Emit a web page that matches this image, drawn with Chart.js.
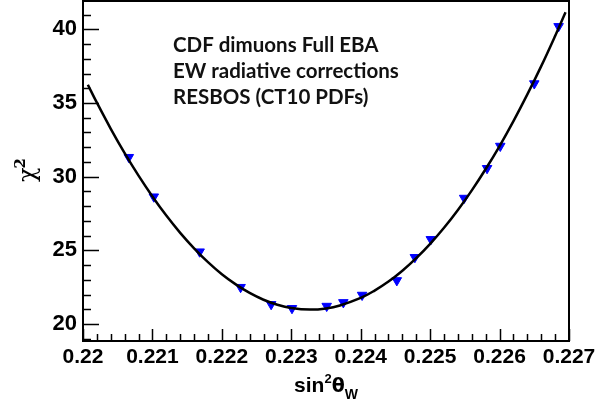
<!DOCTYPE html>
<html>
<head>
<meta charset="utf-8">
<script src="https://cdn.jsdelivr.net/npm/chart.js@4.4.0/dist/chart.umd.min.js"></script>
<style>
  html, body { margin: 0; padding: 0; background: #fff; }
  #wrap { width: 611px; height: 405px; position: relative; }
</style>
</head>
<body>
<div id="wrap"><canvas id="chi2Chart"></canvas></div>
<script>
// scan points (sin^2 theta_W, chi^2)
const pointX = [0.22066, 0.22102, 0.22168, 0.22227, 0.22271, 0.22301, 0.22351, 0.22375, 0.22402,
                0.22452, 0.22478, 0.22501, 0.22549, 0.22582, 0.22601, 0.22650, 0.22685];
const pointChi2 = [31.32, 28.64, 24.91, 22.50, 21.34, 21.07, 21.22, 21.47, 21.97,
                   22.96, 24.53, 25.75, 28.55, 30.57, 32.08, 36.32, 40.20];

// fitted curve
const fitX = [0.22007, 0.2202, 0.2204, 0.2206, 0.2208, 0.2210, 0.2212, 0.2214, 0.2216, 0.2218,
              0.2220, 0.2222, 0.2224, 0.2226, 0.2228, 0.2230, 0.22327, 0.2235, 0.2237, 0.2240,
              0.2242, 0.2244, 0.2246, 0.2248, 0.2250, 0.2252, 0.2254, 0.2256, 0.2258, 0.2260,
              0.2262, 0.2264, 0.2266, 0.2268, 0.22695];
const fitChi2 = [36.24, 35.02, 33.25, 31.60, 30.07, 28.66, 27.36, 26.19, 25.14, 24.20,
                 23.38, 22.69, 22.11, 21.65, 21.31, 21.09, 20.98, 21.06, 21.26, 21.77,
                 22.27, 22.88, 23.62, 24.47, 25.44, 26.53, 27.74, 29.07, 30.52, 32.08,
                 33.77, 35.58, 37.50, 39.55, 41.16];

const xTickValues = [0.220, 0.221, 0.222, 0.223, 0.224, 0.225, 0.226, 0.227];
const xTickLabels = ['0.22', '0.221', '0.222', '0.223', '0.224', '0.225', '0.226', '0.227'];
const yTickValues = [20, 25, 30, 35, 40];

const noteLines = ['CDF dimuons Full EBA', 'EW radiative corrections', 'RESBOS (CT10 PDFs)'];

const tickFont = 'Liberation Sans';

// ROOT-like frame: inner ticks on left and bottom, box all round, titles and note
const rootFrame = {
    id: 'rootFrame',
    afterDraw(chart) {
        const { ctx, chartArea: a, scales: { x, y } } = chart;
        ctx.save();
        ctx.strokeStyle = '#000';
        ctx.lineWidth = 1.5;
        ctx.beginPath();
        for (let v = 19; v <= 41; v++) {
            const py = Math.round(y.getPixelForValue(v)) + 0.5;
            const len = v % 5 === 0 ? 16 : 8;
            ctx.moveTo(a.left, py);
            ctx.lineTo(a.left + len, py);
        }
        for (let k = 0; k <= 35; k++) {
            const px = Math.round(x.getPixelForValue(0.22 + k * 0.0002)) + 0.5;
            const len = k % 5 === 0 ? 12 : 7;
            ctx.moveTo(px, a.bottom);
            ctx.lineTo(px, a.bottom - len);
        }
        ctx.stroke();

        ctx.lineWidth = 2;
        ctx.strokeRect(a.left, a.top, a.right - a.left, a.bottom - a.top);

        // y title: chi^2, rotated
        ctx.fillStyle = '#000';
        ctx.translate(35, 182);
        ctx.rotate(-Math.PI / 2);
        ctx.font = '24px "DejaVu Serif"';
        ctx.textBaseline = 'alphabetic';
        ctx.textAlign = 'left';
        ctx.fillText('χ', 0, 0);
        const cw = ctx.measureText('χ').width;
        ctx.font = 'bold 15px "DejaVu Serif"';
        ctx.fillText('2', cw - 1, -10);
        ctx.setTransform(1, 0, 0, 1, 0, 0);

        // x title: sin^2 theta_W
        const parts = [
            { t: 'sin', f: `bold 21px "${tickFont}"`, dy: 0 },
            { t: '2', f: `bold 13px "${tickFont}"`, dy: -9 },
            { t: 'θ', f: 'bold 19px "DejaVu Sans"', dy: 0 },
            { t: 'W', f: `bold 14px "${tickFont}"`, dy: 7 }
        ];
        let total = 0;
        parts.forEach(p => { ctx.font = p.f; p.w = ctx.measureText(p.t).width; total += p.w; });
        let cx = 326 - total / 2;
        parts.forEach(p => { ctx.font = p.f; ctx.fillText(p.t, cx, 392 + p.dy); cx += p.w; });

        // note
        ctx.fillStyle = '#111';
        ctx.font = 'bold 20.5px Lato';
        const baselines = [52, 78, 103.5];
        noteLines.forEach((line, i) => ctx.fillText(line, 173, baselines[i]));
        ctx.restore();
    }
};

new Chart(document.getElementById('chi2Chart'), {
    type: 'line',
    data: {
        datasets: [
            {
                label: 'fit',
                data: fitX.map((v, i) => ({ x: v, y: fitChi2[i] })),
                borderColor: '#000',
                borderWidth: 2.5,
                pointRadius: 0,
                tension: 0.4,
                fill: false,
                order: 0
            },
            {
                type: 'scatter',
                label: 'scan',
                data: pointX.map((v, i) => ({ x: v, y: pointChi2[i] })),
                pointStyle: 'triangle',
                rotation: 180,
                pointRadius: 5.5,
                backgroundColor: '#0000ff',
                borderColor: '#0000ff',
                borderWidth: 1,
                order: 1
            }
        ]
    },
    options: {
        responsive: true,
        maintainAspectRatio: false,
        animation: false,
        layout: { autoPadding: false, padding: { top: 1, right: 42, left: 0, bottom: 0 } },
        plugins: { legend: { display: false }, tooltip: { enabled: false } },
        scales: {
            x: {
                type: 'linear',
                min: 0.22,
                max: 0.227,
                afterBuildTicks: (scale) => { scale.ticks = xTickValues.map(v => ({ value: v })); },
                afterFit: (scale) => {
                    scale.height = 64;
                    scale.paddingLeft = 0;
                    scale.paddingRight = 0;
                },
                grid: { display: false, drawTicks: false },
                border: { display: false },
                ticks: {
                    autoSkip: false,
                    maxRotation: 0,
                    padding: 4,
                    color: '#000',
                    font: { family: tickFont, size: 21, weight: 'bold' },
                    callback: (v, i) => xTickLabels[i]
                }
            },
            y: {
                min: 18.85,
                max: 41.92,
                afterBuildTicks: (scale) => { scale.ticks = yTickValues.map(v => ({ value: v })); },
                afterFit: (scale) => {
                    scale.width = 83;
                    scale.paddingTop = 0;
                    scale.paddingBottom = 0;
                },
                grid: { display: false, drawTicks: false },
                border: { display: false },
                ticks: {
                    padding: 6,
                    color: '#000',
                    font: { family: tickFont, size: 22, weight: 'bold' }
                }
            }
        }
    },
    plugins: [rootFrame]
});
</script>
</body>
</html>
